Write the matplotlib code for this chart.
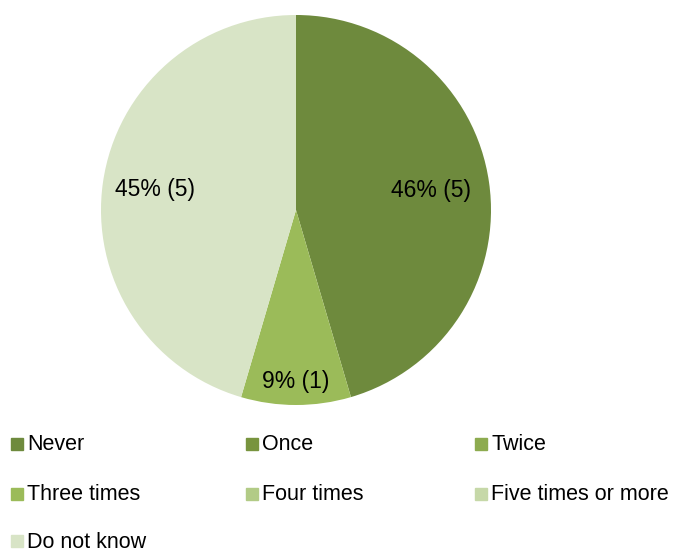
import matplotlib
matplotlib.use('Agg')
import matplotlib.pyplot as plt
import matplotlib.patches as mpatches
import numpy as np

plt.rcParams['font.family'] = ['Liberation Sans', 'DejaVu Sans']

categories = ['Never', 'Once', 'Twice', 'Three times', 'Four times',
              'Five times or more', 'Do not know']
counts = [5, 0, 0, 1, 0, 0, 5]
pct_labels = ['46%', '', '', '9%', '', '', '45%']
colors = ['#6E8A3D', '#78943E', '#8DAB4F', '#9BBB59', '#B2CB86',
          '#C6D8A8', '#D8E4C6']
label_dist = [0.70, 0, 0, 0.88, 0, 0, 0.73]

W, H = 677, 553
fig = plt.figure(figsize=(W / 100, H / 100), dpi=100)

# pie centred at (296, 210) px with radius 195 px
cx, cy, r = 296, 210, 195
ax = fig.add_axes([(cx - r) / W, (H - cy - r) / H, 2 * r / W, 2 * r / H])
wedges, _ = ax.pie(counts, colors=colors, startangle=90, counterclock=False,
                   radius=1, wedgeprops=dict(linewidth=0))
ax.set_xlim(-1, 1)
ax.set_ylim(-1, 1)
ax.set_aspect('auto')
ax.axis('off')

for w, n, p, d in zip(wedges, counts, pct_labels, label_dist):
    if n == 0:
        continue
    mid = np.deg2rad((w.theta1 + w.theta2) / 2)
    ax.text(d * np.cos(mid), d * np.sin(mid), f'{p} ({n})', ha='center',
            va='center', fontsize=16.5, color='black')

# legend: three fixed-width columns
col_x = [11, 246, 475]
row_y = [444, 494, 541]
sq = 12
for i, (cat, col) in enumerate(zip(categories, colors)):
    x = col_x[i % 3]
    y = row_y[i // 3]
    fig.patches.append(mpatches.Rectangle((x / W, (H - y - sq / 2) / H), sq / W, sq / H,
                                          transform=fig.transFigure, color=col))
    fig.text((x + sq + 4) / W, (H - y - 1) / H, cat, ha='left', va='center',
             fontsize=15.5, color='black')

fig.savefig('out.png', dpi=100)
